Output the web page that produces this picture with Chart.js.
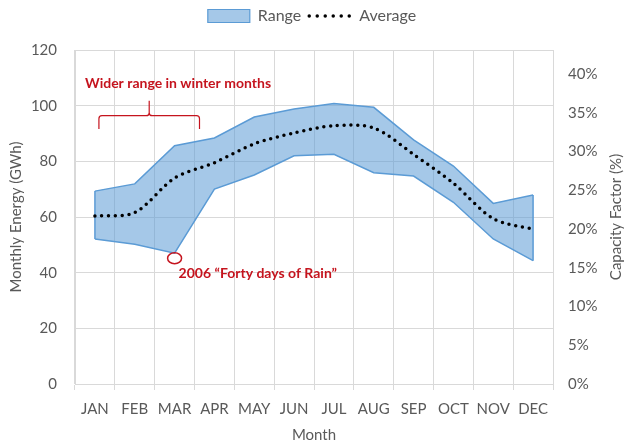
<!DOCTYPE html>
<html><head><meta charset="utf-8">
<script src="https://cdn.jsdelivr.net/npm/chart.js@4/dist/chart.umd.min.js"></script>
<style>html,body{margin:0;padding:0;background:#fff}#wrap{width:624px;height:444px;position:relative}</style>
</head><body><div id="wrap"><canvas id="c"></canvas></div>
<script>
const months = ['JAN','FEB','MAR','APR','MAY','JUN','JUL','AUG','SEP','OCT','NOV','DEC'];
const rangeLow  = [52.1, 50.2, 47.0, 70.0, 75.1, 82.0, 82.5, 75.9, 74.7, 65.3, 52.1, 44.3];
const rangeHigh = [69.3, 71.9, 85.6, 88.4, 95.9, 98.8, 100.8, 99.4, 87.7, 78.3, 64.9, 67.9];
const average   = [60.4, 61.6, 74.0, 79.5, 86.3, 90.2, 92.8, 92.0, 82.5, 72.1, 59.4, 55.6];
const energyTicks = [0, 20, 40, 60, 80, 100, 120];
const capacityTicks = [0, 5, 10, 15, 20, 25, 30, 35, 40];
const capacityMax = 43.1;

const GRAY = '#595959', GRID = '#D9D9D9', RED = '#C5141E';
const FILL = 'rgba(91,155,213,0.55)', EDGE = '#5B9BD5';
Chart.defaults.font.family = 'Lato';
Chart.defaults.color = GRAY;

const legendSpace = {
  id: 'legendSpace',
  afterInit(chart) {
    const lg = chart.legend;
    if (!lg || lg._patched) return;
    const orig = lg.fit.bind(lg);
    lg.fit = function () { orig(); this.height = 50; };
    lg._patched = true;
  }
};

const annot = {
  id: 'annot',
  afterDatasetDraw(chart, args) {
    if (args.index !== 2) return;
    const lo = chart.getDatasetMeta(1).data, hi = chart.getDatasetMeta(2).data;
    const ctx = chart.ctx;
    ctx.save();
    ctx.strokeStyle = EDGE; ctx.lineWidth = 1.5;
    [0, hi.length - 1].forEach(i => {
      ctx.beginPath(); ctx.moveTo(hi[i].x, hi[i].y); ctx.lineTo(lo[i].x, lo[i].y); ctx.stroke();
    });
    ctx.restore();
  },
  afterDraw(chart) {
    const ctx = chart.ctx, xs = chart.scales.x, ys = chart.scales.y, area = chart.chartArea;
    ctx.save();
    ctx.fillStyle = RED; ctx.strokeStyle = RED;
    ctx.font = 'bold 14px Lato';
    ctx.textBaseline = 'middle'; ctx.textAlign = 'left';
    ctx.fillText('Wider range in winter months', area.left + 10, ys.getPixelForValue(108));
    // bracket
    const x0 = xs.getPixelForValue(0) + 4, x1 = xs.getPixelForValue(2.5) + 5, xm = (x0 + x1) / 2;
    const yEnd = ys.getPixelForValue(91.6), yBar = ys.getPixelForValue(96.4), yTip = ys.getPixelForValue(101.8);
    ctx.lineWidth = 1.2;
    ctx.beginPath();
    ctx.moveTo(x0, yEnd);
    ctx.lineTo(x0, yBar + 3);
    ctx.quadraticCurveTo(x0, yBar, x0 + 3, yBar);
    ctx.lineTo(xm - 3, yBar);
    ctx.quadraticCurveTo(xm, yBar, xm, yBar - 3);
    ctx.lineTo(xm, yTip);
    ctx.moveTo(xm, yBar - 3);
    ctx.quadraticCurveTo(xm, yBar, xm + 3, yBar);
    ctx.lineTo(x1 - 3, yBar);
    ctx.quadraticCurveTo(x1, yBar, x1, yBar + 3);
    ctx.lineTo(x1, yEnd);
    ctx.stroke();
    // ellipse at March low
    const p = chart.getDatasetMeta(1).data[2];
    ctx.lineWidth = 1.5;
    ctx.beginPath();
    ctx.ellipse(p.x, p.y + 5, 7, 5.5, 0, 0, Math.PI * 2);
    ctx.stroke();
    ctx.fillText('2006 \u201CForty days of Rain\u201D', p.x + 4, p.y + 20);
    // right axis title, reading bottom-to-top
    ctx.fillStyle = GRAY; ctx.font = '15px Lato'; ctx.textAlign = 'center';
    ctx.translate(chart.width - 8, (area.top + area.bottom) / 2);
    ctx.rotate(-Math.PI / 2);
    ctx.fillText('Capacity Factor (%)', 0, 0);
    ctx.restore();
  }
};

new Chart(document.getElementById('c'), {
  type: 'line',
  data: {
    labels: months,
    datasets: [
      { label: 'Average', data: average, borderColor: '#000', borderWidth: 3.5,
        borderDash: [0, 6.8], borderCapStyle: 'round', pointRadius: 0, tension: 0.3, fill: false },
      { label: 'Low', data: rangeLow, borderColor: EDGE, borderWidth: 1.5, pointRadius: 0, fill: false, tension: 0 },
      { label: 'Range', data: rangeHigh, borderColor: EDGE, borderWidth: 1.5, pointRadius: 0,
        backgroundColor: FILL, fill: '-1', tension: 0 }
    ]
  },
  options: {
    responsive: true, maintainAspectRatio: false, animation: false,
    layout: { padding: { top: 0, left: 0, right: 0, bottom: 0 } },
    plugins: {
      tooltip: { enabled: false },
      legend: {
        position: 'top',
        labels: {
          usePointStyle: true, pointStyleWidth: 42, boxHeight: 13, padding: 8,
          font: { size: 16 }, color: GRAY,
          generateLabels: () => [
            { text: 'Range', fillStyle: FILL, strokeStyle: EDGE, lineWidth: 1.2, pointStyle: 'rect',
              datasetIndex: 2, hidden: false, fontColor: GRAY },
            { text: 'Average', fillStyle: '#000', strokeStyle: '#000', lineWidth: 3.5, lineDash: [0, 8],
              lineCap: 'round', pointStyle: 'line', datasetIndex: 0, hidden: false, fontColor: GRAY }
          ]
        }
      }
    },
    scales: {
      x: {
        offset: true,
        grid: { offset: true, color: GRID, tickLength: 6, tickColor: GRID },
        border: { color: GRID },
        ticks: { font: { size: 15 }, color: GRAY, padding: 10, maxRotation: 0, autoSkip: false },
        title: { display: true, text: 'Month', font: { size: 15 }, color: GRAY, padding: { top: 2, bottom: 0 } },
        afterFit: s => { s.height = 60; }
      },
      y: {
        position: 'left', min: 0, max: 120,
        afterBuildTicks: s => { s.ticks = energyTicks.map(v => ({ value: v })); },
        grid: { color: GRID, drawTicks: false },
        border: { color: GRID },
        ticks: { font: { size: 15 }, color: GRAY, padding: 18 },
        title: { display: true, text: 'Monthly Energy (GWh)', font: { size: 15 }, color: GRAY, padding: { top: 7, bottom: 0 } },
        afterFit: s => { s.width = 75; }
      },
      y1: {
        position: 'right', min: 0, max: capacityMax,
        afterBuildTicks: s => { s.ticks = capacityTicks.map(v => ({ value: v })); },
        grid: { display: false, drawTicks: false },
        border: { display: false },
        ticks: { font: { size: 15 }, color: GRAY, padding: 15, callback: v => v + '%' },
        afterFit: s => { s.width = 71; }
      }
    }
  },
  plugins: [legendSpace, annot]
});
</script></body></html>
